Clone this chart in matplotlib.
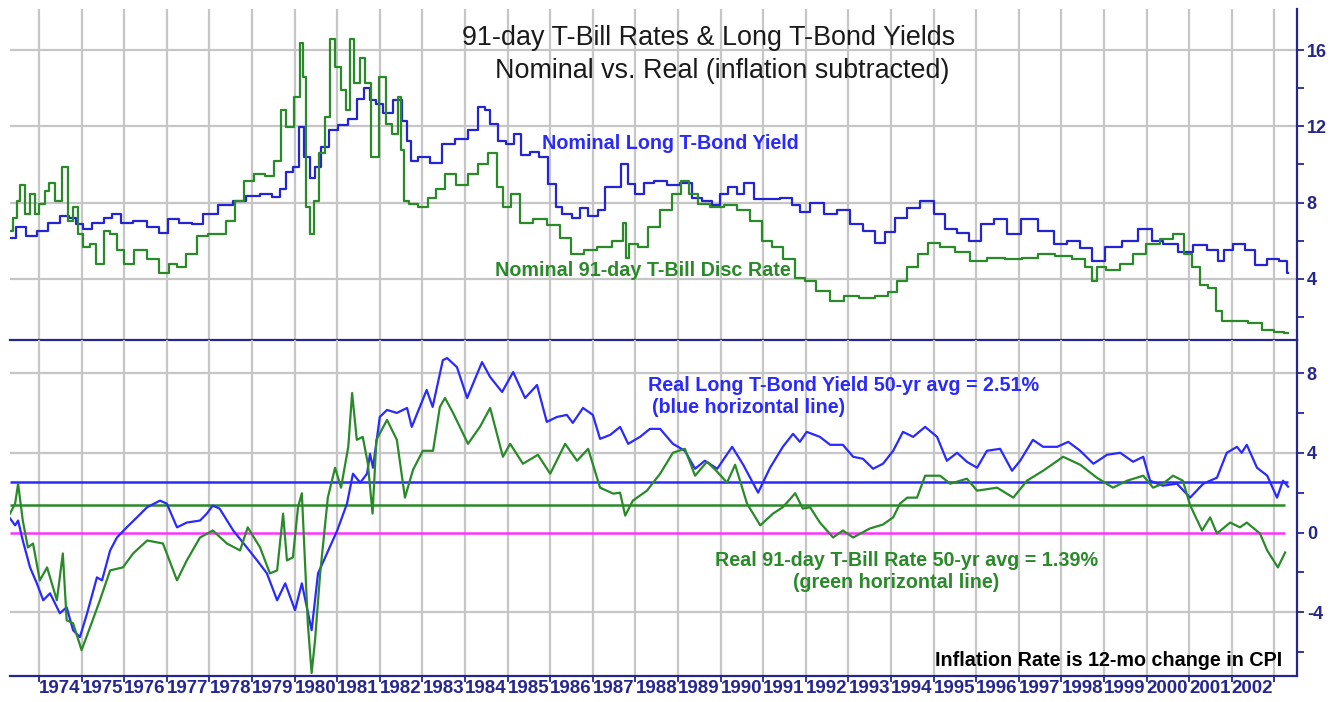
import matplotlib
matplotlib.use('Agg')
import matplotlib.pyplot as plt
import numpy as np

plt.rcParams['font.family'] = ['Liberation Sans', 'DejaVu Sans']
plt.rcParams['axes.unicode_minus'] = False

# ---- Daten ----
# nominale Rendite lange T-Bonds
bond_yr = [1973.32, 1973.62, 1973.79, 1974.10, 1974.33, 1974.65, 1974.77, 1974.96, 1975.13, 1975.36,
           1975.67, 1975.78, 1976.06, 1976.37, 1976.68, 1976.96, 1977.12, 1977.47, 1977.71, 1978.01,
           1978.41, 1978.72, 1979.02, 1979.35, 1979.59, 1979.73, 1979.89, 1980.05, 1980.17, 1980.29,
           1980.43, 1980.55, 1980.71, 1980.90, 1981.14, 1981.37, 1981.58, 1981.70, 1981.82, 1982.00,
           1982.17, 1982.43, 1982.60, 1982.70, 1982.78, 1983.00, 1983.34, 1983.57, 1983.95, 1984.19,
           1984.40, 1984.52, 1984.66, 1984.87, 1985.06, 1985.24, 1985.41, 1985.64, 1985.83, 1986.07,
           1986.18, 1986.39, 1986.63, 1986.77, 1987.00, 1987.24, 1987.33, 1987.57, 1987.76, 1987.87,
           1988.11, 1988.30, 1988.58, 1988.88, 1989.21, 1989.45, 1989.68, 1989.92, 1990.06, 1990.29,
           1990.46, 1990.64, 1990.93, 1991.23, 1991.56, 1991.79, 1991.93, 1992.26, 1992.57, 1992.87,
           1993.20, 1993.50, 1993.74, 1993.98, 1994.21, 1994.52, 1994.85, 1995.15, 1995.39, 1995.69,
           1995.97, 1996.25, 1996.56, 1996.87, 1997.22, 1997.66, 1997.97, 1998.27, 1998.60, 1998.83,
           1999.21, 1999.61, 2000.00, 2000.24, 2000.55, 2000.94, 2001.25, 2001.56, 2001.77, 2001.88,
           2002.19, 2002.42, 2002.66, 2002.97, 2003.25, 2003.32]
bond_nom = [6.16, 6.70, 6.26, 6.50, 6.95, 7.30, 7.20, 6.90, 6.60, 6.95,
            7.20, 7.40, 6.95, 7.05, 6.70, 6.40, 7.15, 6.95, 6.90, 7.40,
            7.85, 8.10, 8.35, 8.45, 8.30, 8.70, 9.60, 9.85, 11.95, 10.40,
            9.30, 9.85, 10.90, 11.80, 12.05, 12.40, 13.45, 14.00, 13.40, 13.20,
            12.70, 13.40, 12.30, 11.25, 10.20, 10.40, 10.10, 11.10, 11.35, 11.80,
            13.00, 12.85, 12.15, 11.25, 11.10, 11.60, 10.50, 10.65, 10.40, 9.00,
            7.75, 7.40, 7.20, 7.70, 7.30, 7.60, 8.80, 8.80, 10.05, 9.00,
            8.45, 9.05, 9.15, 8.90, 9.05, 8.25, 8.10, 7.85, 8.45, 8.80,
            8.45, 9.05, 8.20, 8.20, 8.25, 7.85, 7.50, 8.00, 7.40, 7.60,
            6.90, 6.50, 5.90, 6.45, 7.20, 7.70, 8.10, 7.40, 6.60, 6.40,
            6.00, 6.90, 7.15, 6.35, 7.15, 6.50, 5.85, 6.00, 5.60, 4.95,
            5.65, 6.00, 6.60, 6.00, 5.85, 5.40, 5.75, 5.50, 4.95, 5.50,
            5.85, 5.50, 4.70, 5.05, 4.95, 4.30]

# nominaler 91-Tage T-Bill Diskontsatz
bill_yr = [1973.32, 1973.44, 1973.51, 1973.62, 1973.72, 1973.86, 1973.95, 1974.07, 1974.19, 1974.30,
           1974.45, 1974.61, 1974.73, 1974.85, 1974.96, 1975.13, 1975.27, 1975.43, 1975.60, 1975.74,
           1975.90, 1976.09, 1976.37, 1976.68, 1976.96, 1977.15, 1977.31, 1977.59, 1977.85, 1978.08,
           1978.30, 1978.48, 1978.72, 1978.90, 1979.19, 1979.42, 1979.61, 1979.73, 1979.89, 1980.08,
           1980.17, 1980.24, 1980.31, 1980.40, 1980.52, 1980.64, 1980.78, 1980.90, 1981.02, 1981.14,
           1981.26, 1981.35, 1981.46, 1981.60, 1981.72, 1981.89, 1982.08, 1982.19, 1982.40, 1982.47,
           1982.54, 1982.60, 1982.78, 1983.01, 1983.25, 1983.41, 1983.65, 1983.95, 1984.19, 1984.42,
           1984.66, 1984.82, 1984.98, 1985.17, 1985.41, 1985.76, 1986.11, 1986.35, 1986.63, 1986.94,
           1987.24, 1987.64, 1987.76, 1987.78, 1987.94, 1988.18, 1988.41, 1988.74, 1988.98, 1989.16,
           1989.35, 1989.59, 1989.92, 1990.22, 1990.53, 1990.85, 1991.09, 1991.32, 1991.63, 1991.86,
           1992.10, 1992.40, 1992.73, 1993.04, 1993.44, 1993.81, 1994.05, 1994.21, 1994.52, 1994.75,
           1994.99, 1995.31, 1995.69, 1996.02, 1996.49, 1996.87, 1997.26, 1997.66, 1998.04, 1998.44,
           1998.67, 1998.75, 1998.90, 1999.21, 1999.54, 1999.84, 2000.15, 2000.48, 2000.78, 2000.97,
           2001.18, 2001.33, 2001.56, 2001.68, 2001.88, 2002.19, 2002.59, 2002.83, 2003.13, 2003.32]
bill_nom = [6.50, 7.20, 8.10, 8.90, 7.40, 8.45, 7.40, 7.95, 8.60, 9.05,
            8.10, 9.85, 7.05, 7.75, 6.35, 5.65, 5.85, 4.80, 6.50, 6.35,
            5.50, 4.80, 5.50, 5.05, 4.30, 4.80, 4.60, 5.30, 6.25, 6.35,
            6.35, 7.05, 8.10, 9.15, 9.50, 9.40, 10.20, 12.85, 11.95, 13.55,
            16.40, 14.60, 7.75, 6.35, 8.10, 10.60, 12.50, 16.60, 15.10, 13.90,
            12.85, 16.60, 14.25, 15.60, 14.25, 10.40, 14.60, 12.15, 11.60, 13.55,
            10.75, 8.10, 7.95, 7.75, 8.25, 8.70, 9.50, 8.90, 9.50, 10.05,
            10.60, 8.80, 7.75, 8.45, 6.95, 7.15, 6.80, 6.15, 5.30, 5.50,
            5.65, 6.00, 6.95, 5.10, 5.85, 5.65, 6.70, 7.60, 8.45, 9.15,
            8.45, 7.95, 7.75, 7.85, 7.60, 7.05, 6.00, 5.65, 5.05, 4.05,
            3.90, 3.35, 2.85, 3.10, 3.00, 3.10, 3.30, 3.90, 4.60, 5.30,
            5.90, 5.65, 5.40, 4.95, 5.10, 5.05, 5.10, 5.30, 5.20, 5.05,
            4.60, 3.90, 4.60, 4.45, 4.80, 5.30, 5.85, 6.10, 6.35, 5.30,
            4.60, 3.70, 3.50, 2.30, 1.80, 1.80, 1.70, 1.30, 1.20, 1.15]

# reale Rendite lange T-Bonds
rbond_yr = [1973.32, 1973.44, 1973.51, 1973.62, 1973.79, 1973.95, 1974.10, 1974.26, 1974.49, 1974.65,
            1974.80, 1974.96, 1975.13, 1975.36, 1975.48, 1975.67, 1975.83, 1976.06, 1976.30, 1976.54,
            1976.84, 1977.00, 1977.24, 1977.47, 1977.78, 1977.94, 1978.08, 1978.24, 1978.56, 1978.88,
            1979.12, 1979.35, 1979.59, 1979.78, 1980.01, 1980.17, 1980.40, 1980.55, 1980.76, 1981.00,
            1981.23, 1981.37, 1981.54, 1981.70, 1981.77, 1981.84, 1982.00, 1982.17, 1982.40, 1982.64,
            1982.75, 1983.10, 1983.24, 1983.48, 1983.58, 1983.81, 1984.05, 1984.40, 1984.59, 1984.87,
            1985.13, 1985.41, 1985.69, 1985.92, 1986.16, 1986.39, 1986.53, 1986.77, 1987.00, 1987.17,
            1987.41, 1987.64, 1987.83, 1988.11, 1988.34, 1988.58, 1988.88, 1989.16, 1989.40, 1989.63,
            1989.92, 1990.27, 1990.53, 1990.88, 1991.16, 1991.46, 1991.70, 1991.86, 1992.02, 1992.33,
            1992.57, 1992.87, 1993.11, 1993.34, 1993.58, 1993.81, 1994.05, 1994.28, 1994.52, 1994.80,
            1995.08, 1995.31, 1995.55, 1995.78, 1996.02, 1996.25, 1996.56, 1996.84, 1997.03, 1997.33,
            1997.57, 1997.90, 1998.16, 1998.44, 1998.75, 1999.07, 1999.38, 1999.68, 1999.92, 2000.08,
            2000.38, 2000.71, 2001.02, 2001.33, 2001.65, 2001.88, 2002.12, 2002.23, 2002.35, 2002.59,
            2002.83, 2003.06, 2003.20, 2003.32]
rbond = [0.71, 0.36, 0.60, -0.40, -1.75, -2.55, -3.40, -3.05, -4.05, -3.75,
         -4.90, -5.25, -4.05, -2.25, -2.40, -0.90, -0.25, 0.26, 0.76, 1.27,
         1.60, 1.45, 0.26, 0.50, 0.60, 0.95, 1.35, 1.20, 0.10, -0.75,
         -1.40, -2.05, -3.40, -2.55, -3.90, -2.55, -4.90, -2.05, -1.05, 0.10,
         1.45, 2.95, 2.50, 2.95, 3.95, 3.25, 5.80, 6.15, 6.00, 6.25,
         5.30, 7.15, 6.30, 8.65, 8.75, 8.30, 6.75, 8.55, 7.80, 7.05,
         8.05, 6.75, 7.40, 5.55, 5.80, 5.90, 5.50, 6.25, 5.90, 4.70,
         4.90, 5.30, 4.45, 4.80, 5.20, 5.20, 4.45, 4.10, 3.20, 3.60,
         3.20, 4.30, 3.40, 2.00, 3.25, 4.30, 4.95, 4.55, 5.05, 4.80,
         4.40, 4.40, 3.80, 3.70, 3.20, 3.45, 4.10, 5.05, 4.80, 5.30,
         4.80, 3.60, 4.00, 3.55, 3.25, 4.10, 4.20, 3.10, 3.60, 4.65,
         4.30, 4.30, 4.55, 4.10, 3.45, 3.90, 4.00, 3.55, 3.80, 2.60,
         2.35, 2.45, 1.75, 2.45, 2.75, 4.00, 4.30, 4.00, 4.40, 3.25,
         2.85, 1.75, 2.60, 2.30]

# realer 91-Tage T-Bill Satz
rbill_yr = [1973.32, 1973.44, 1973.51, 1973.62, 1973.74, 1973.86, 1974.02, 1974.19, 1974.42, 1974.56,
            1974.65, 1974.80, 1975.00, 1975.20, 1975.43, 1975.67, 1975.97, 1976.21, 1976.54, 1976.91,
            1977.24, 1977.47, 1977.78, 1978.08, 1978.41, 1978.72, 1978.90, 1979.19, 1979.42, 1979.59,
            1979.73, 1979.82, 1979.96, 1980.08, 1980.17, 1980.24, 1980.31, 1980.40, 1980.48, 1980.60,
            1980.78, 1980.95, 1981.09, 1981.26, 1981.35, 1981.46, 1981.60, 1981.72, 1981.83, 1981.92,
            1982.17, 1982.40, 1982.59, 1982.78, 1983.01, 1983.25, 1983.41, 1983.53, 1983.72, 1984.07,
            1984.35, 1984.59, 1984.89, 1985.06, 1985.36, 1985.71, 1986.00, 1986.35, 1986.63, 1986.89,
            1987.17, 1987.48, 1987.64, 1987.76, 1987.94, 1988.27, 1988.58, 1988.88, 1989.16, 1989.40,
            1989.68, 1989.92, 1990.15, 1990.34, 1990.62, 1990.93, 1991.23, 1991.46, 1991.75, 1991.93,
            1992.10, 1992.33, 1992.64, 1992.87, 1993.11, 1993.50, 1993.81, 1994.05, 1994.21, 1994.38,
            1994.61, 1994.80, 1995.15, 1995.39, 1995.78, 1996.02, 1996.49, 1996.87, 1997.19, 1997.57,
            1998.04, 1998.44, 1998.83, 1999.21, 1999.54, 1999.92, 2000.15, 2000.38, 2000.62, 2000.85,
            2001.02, 2001.30, 2001.49, 2001.65, 2001.96, 2002.19, 2002.35, 2002.66, 2002.83, 2003.08,
            2003.25]
rbill = [0.95, 1.45, 2.45, 0.60, -0.75, -0.55, -2.40, -1.75, -3.40, -1.05,
         -4.40, -4.55, -5.90, -4.75, -3.40, -1.90, -1.75, -1.05, -0.40, -0.55,
         -2.40, -1.40, -0.25, 0.10, -0.55, -0.90, 0.26, -0.75, -2.05, -1.90,
         0.95, -1.40, -1.25, 1.27, 1.97, -1.25, -4.55, -7.05, -5.40, -2.05,
         1.75, 3.25, 2.25, 4.30, 7.00, 4.65, 4.80, 3.45, 0.95, 4.65,
         5.65, 4.65, 1.75, 3.15, 4.10, 4.10, 6.30, 6.75, 6.00, 4.45,
         5.30, 6.25, 3.80, 4.45, 3.45, 3.90, 2.95, 4.45, 3.60, 4.20,
         2.25, 1.95, 2.00, 0.85, 1.60, 2.10, 2.95, 4.00, 4.20, 2.85,
         3.55, 3.05, 2.50, 3.40, 1.45, 0.36, 0.95, 1.27, 1.97, 1.20,
         1.27, 0.50, -0.25, 0.10, -0.25, 0.20, 0.40, 0.76, 1.45, 1.75,
         1.75, 2.85, 2.85, 2.45, 2.70, 2.10, 2.25, 1.75, 2.60, 3.10,
         3.80, 3.40, 2.75, 2.25, 2.60, 2.85, 2.25, 2.45, 2.85, 2.60,
         1.37, 0.10, 0.76, -0.05, 0.50, 0.26, 0.50, -0.05, -0.90, -1.75,
         -1.00]

bond_avg = 2.51
bill_avg = 1.39
years = list(range(1974, 2004))
year_labels = [str(y) for y in range(1974, 2003)] + ['']

# Farben
navy = '#26268f'
c_blue = '#2424d0'
c_rblue = '#2a2aff'
c_green = '#2a8a2a'
c_mag = '#ff33ff'
c_grid = '#c6c6c6'

fig = plt.figure(figsize=(13.34, 7.02), dpi=100)
ax1 = fig.add_axes([0.0075, 0.5157, 0.9648, 0.4715])
ax2 = fig.add_axes([0.0075, 0.037, 0.9648, 0.4787])

xlim = (1973.32, 2003.53)

for ax in (ax1, ax2):
    ax.set_facecolor('none')
    ax.set_xlim(*xlim)
    ax.set_xticks(years)
    ax.grid(True, color=c_grid, linewidth=1.6)
    ax.set_axisbelow(True)
    ax.spines['left'].set_visible(False)
    ax.spines['top'].set_visible(False)
    ax.spines['right'].set_color(navy)
    ax.spines['bottom'].set_color(navy)
    ax.spines['right'].set_linewidth(1.6)
    ax.spines['bottom'].set_linewidth(1.6)
    ax.yaxis.tick_right()
    ax.tick_params(axis='y', which='both', colors=navy, direction='out', length=5,
                   width=1.3, pad=2, labelsize=13)

# oben: nominal
ax1.plot(bond_yr, bond_nom, color=c_blue, linewidth=1.6, drawstyle='steps-mid')
ax1.plot(bill_yr, bill_nom, color=c_green, linewidth=1.6, drawstyle='steps-mid')
ax1.set_ylim(0.79, 18.16)
ax1.set_yticks([4, 8, 12, 16])
ax1.set_yticklabels(['4', '8', '12', '16'], fontweight='bold')
ax1.set_yticks([2, 6, 10, 14], minor=True)
ax1.tick_params(axis='x', length=0, labelbottom=False)
ax1.spines['bottom'].set_zorder(5)

ax1.text(1985.81, 11.1, 'Nominal Long T-Bond Yield', color=c_rblue, fontsize=14.2,
         fontweight='bold', ha='left', va='center')
ax1.text(1984.70, 4.42, 'Nominal 91-day T-Bill Disc Rate', color=c_green, fontsize=14.2,
         fontweight='bold', ha='left', va='center')

# unten: real
ax2.hlines(bond_avg, rbond_yr[0], rbond_yr[-1], color=c_rblue, linewidth=1.8)
ax2.hlines(bill_avg, rbill_yr[0], rbill_yr[-1], color=c_green, linewidth=1.8)
ax2.hlines(0, rbill_yr[0], rbill_yr[-1], color=c_mag, linewidth=1.8)
ax2.plot(rbond_yr, rbond, color=c_rblue, linewidth=1.6)
ax2.plot(rbill_yr, rbill, color=c_green, linewidth=1.6)
ax2.set_ylim(-7.2, 9.66)
ax2.set_yticks([-4, 4, 8])
ax2.set_yticklabels(['-4', '4', '8'], fontweight='bold')
ax2.set_yticks([-6, -2, 0, 2, 6], minor=True)
ax2.set_yticklabels(['', '', '0', '', ''], minor=True, fontweight='bold')
ax2.set_xticklabels(year_labels, fontweight='bold', color=navy, fontsize=13.5)
for lbl in ax2.get_xticklabels():
    lbl.set_horizontalalignment('left')
ax2.tick_params(axis='x', colors=navy, direction='out', length=4, width=1.3, pad=-1)

ax2.text(1988.30, 7.40, 'Real Long T-Bond Yield 50-yr avg = 2.51%', color=c_rblue, fontsize=14.2,
         fontweight='bold', ha='left', va='center')
ax2.text(1988.39, 6.29, '(blue horizontal line)', color=c_rblue, fontsize=14.2,
         fontweight='bold', ha='left', va='center')
ax2.text(1989.87, -1.40, 'Real 91-day T-Bill Rate 50-yr avg = 1.39%', color=c_green, fontsize=14.2,
         fontweight='bold', ha='left', va='center')
ax2.text(1991.70, -2.50, '(green horizontal line)', color=c_green, fontsize=14.2,
         fontweight='bold', ha='left', va='center')
ax2.text(1995.03, -6.42, 'Inflation Rate is 12-mo change in CPI', color='black', fontsize=14.2,
         fontweight='bold', ha='left', va='center')

fig.text(0.5315, 0.946, '91-day T-Bill Rates & Long T-Bond Yields', ha='center', va='center',
         fontsize=19.4, color='#1a1a1a')
fig.text(0.541, 0.899, 'Nominal vs. Real (inflation subtracted)', ha='center', va='center',
         fontsize=19.4, color='#1a1a1a')

plt.savefig('out.png', dpi=100)
